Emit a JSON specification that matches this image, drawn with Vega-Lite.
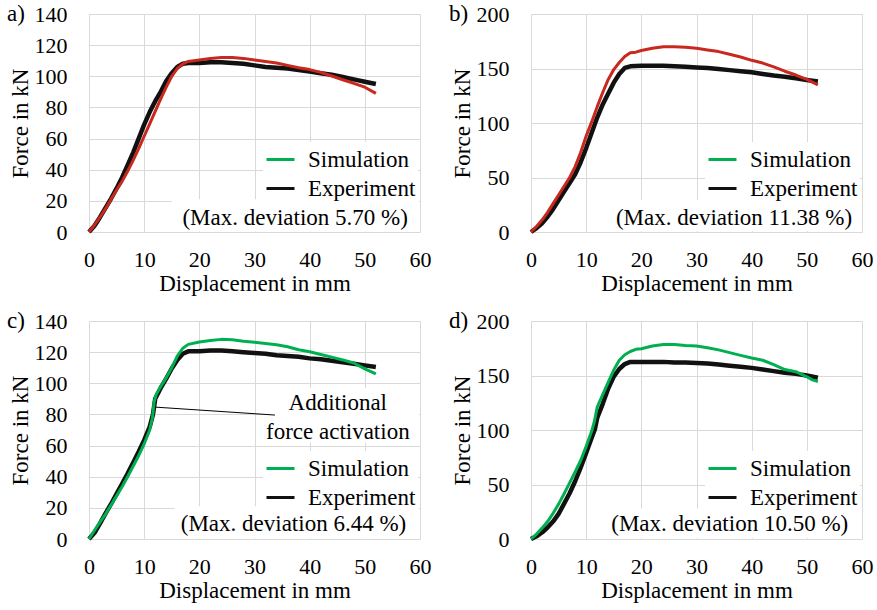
{
  "$schema": "https://vega.github.io/schema/vega-lite/v6.json",
  "background": "white",
  "padding": {"left": 7, "top": 3, "right": 5, "bottom": 2},
  "bounds": "flush",
  "columns": 2,
  "spacing": {"row": 89, "column": 111},
  "resolve": {"scale": {"color": "independent"}, "legend": {"color": "independent"}},
  "config": {
    "view": {"stroke": null},
    "font": "Liberation Serif, Times New Roman, DejaVu Serif, serif",
    "axis": {
      "grid": true, "gridColor": "#d9d9d9", "gridWidth": 1,
      "domain": false, "ticks": false, "tickSize": 0,
      "labelFont": "Liberation Serif, Times New Roman, DejaVu Serif, serif", "labelFontSize": 22, "labelColor": "#000000",
      "titleFont": "Liberation Serif, Times New Roman, DejaVu Serif, serif", "titleFontSize": 23, "titleFontWeight": "normal", "titleColor": "#000000",
      "labelFlush": false, "labelOverlap": false
    },
    "axisX": {"labelPadding": 17.5, "titlePadding": 2},
    "axisY": {"labelPadding": 22, "titleX": -62, "titleBaseline": "alphabetic"},
    "legend": {
      "fillColor": "white", "padding": 2, "symbolType": "stroke", "symbolSize": 784,
      "symbolStrokeWidth": 3, "labelFont": "Liberation Serif, Times New Roman, DejaVu Serif, serif", "labelFontSize": 23,
      "labelColor": "#000000", "labelOffset": 12, "rowPadding": 1
    },
    "title": {
      "font": "Liberation Serif, Times New Roman, DejaVu Serif, serif", "fontSize": 23, "fontWeight": "normal", "color": "#000000",
      "anchor": "start", "frame": "group", "offset": -7, "dx": -82, "dy": 16, "baseline": "alphabetic", "align": "left"
    },
    "text": {"font": "Liberation Serif, Times New Roman, DejaVu Serif, serif", "fontSize": 23, "color": "#000000"}
  },
  "concat": [
    {
      "title": "a)",
      "width": 331, "height": 218,
      "encoding": {
        "x": {"field": "d", "type": "quantitative", "scale": {"domain": [0, 60], "nice": false}, "axis": {"values": [0, 10, 20, 30, 40, 50, 60], "title": "Displacement in mm"}},
        "y": {"field": "f", "type": "quantitative", "scale": {"domain": [0, 140], "nice": false}, "axis": {"values": [0, 20, 40, 60, 80, 100, 120, 140], "title": "Force in kN"}}
      },
      "layer": [
        {
          "data": {"values": [{"d": 15, "d2": 59.8, "f": 0.4, "f2": 21}]},
          "mark": {"type": "rect", "color": "white"},
          "encoding": {"x2": {"field": "d2"}, "y2": {"field": "f2"}}
        },
        {
          "data": {"values": [
            {"series": "Experiment", "d": 0, "f": 0}, {"series": "Experiment", "d": 1, "f": 4}, {"series": "Experiment", "d": 2, "f": 9.5},
            {"series": "Experiment", "d": 3, "f": 15.5}, {"series": "Experiment", "d": 4, "f": 21.5}, {"series": "Experiment", "d": 5, "f": 28},
            {"series": "Experiment", "d": 6, "f": 35}, {"series": "Experiment", "d": 7, "f": 43}, {"series": "Experiment", "d": 8, "f": 51},
            {"series": "Experiment", "d": 9, "f": 60}, {"series": "Experiment", "d": 10, "f": 69}, {"series": "Experiment", "d": 11, "f": 77},
            {"series": "Experiment", "d": 12, "f": 84}, {"series": "Experiment", "d": 13, "f": 90}, {"series": "Experiment", "d": 14, "f": 97},
            {"series": "Experiment", "d": 15, "f": 102}, {"series": "Experiment", "d": 16, "f": 106}, {"series": "Experiment", "d": 17, "f": 108},
            {"series": "Experiment", "d": 18, "f": 108.5}, {"series": "Experiment", "d": 20, "f": 108.5}, {"series": "Experiment", "d": 22, "f": 109},
            {"series": "Experiment", "d": 24, "f": 109}, {"series": "Experiment", "d": 26, "f": 108.5}, {"series": "Experiment", "d": 28, "f": 108},
            {"series": "Experiment", "d": 30, "f": 107}, {"series": "Experiment", "d": 32, "f": 106}, {"series": "Experiment", "d": 34, "f": 105.5},
            {"series": "Experiment", "d": 36, "f": 105}, {"series": "Experiment", "d": 38, "f": 104}, {"series": "Experiment", "d": 40, "f": 103},
            {"series": "Experiment", "d": 42, "f": 102}, {"series": "Experiment", "d": 44, "f": 101}, {"series": "Experiment", "d": 46, "f": 99.5},
            {"series": "Experiment", "d": 48, "f": 98}, {"series": "Experiment", "d": 50, "f": 96.5}, {"series": "Experiment", "d": 52, "f": 95}
          ]},
          "mark": {"type": "line", "strokeWidth": 4.5, "strokeJoin": "round"},
          "encoding": {
            "color": {"field": "series", "type": "nominal", "scale": {"domain": ["Simulation", "Experiment"], "range": ["#00b050", "#111111"]},
              "legend": {"title": null, "orient": "none", "legendX": 174, "legendY": 128}}
          }
        },
        {
          "data": {"values": [
            {"series": "Simulation", "d": 0, "f": 0}, {"series": "Simulation", "d": 1, "f": 4.5}, {"series": "Simulation", "d": 2, "f": 9.5},
            {"series": "Simulation", "d": 3, "f": 15}, {"series": "Simulation", "d": 4, "f": 21}, {"series": "Simulation", "d": 5, "f": 27},
            {"series": "Simulation", "d": 6, "f": 32.5}, {"series": "Simulation", "d": 7, "f": 39}, {"series": "Simulation", "d": 8, "f": 46},
            {"series": "Simulation", "d": 9, "f": 53.5}, {"series": "Simulation", "d": 10, "f": 61.5}, {"series": "Simulation", "d": 11, "f": 69.5},
            {"series": "Simulation", "d": 12, "f": 77.5}, {"series": "Simulation", "d": 13, "f": 85.5}, {"series": "Simulation", "d": 14, "f": 93},
            {"series": "Simulation", "d": 15, "f": 100}, {"series": "Simulation", "d": 16, "f": 105}, {"series": "Simulation", "d": 17, "f": 108},
            {"series": "Simulation", "d": 18, "f": 109.5}, {"series": "Simulation", "d": 20, "f": 110.5}, {"series": "Simulation", "d": 22, "f": 111.5},
            {"series": "Simulation", "d": 24, "f": 112}, {"series": "Simulation", "d": 26, "f": 112}, {"series": "Simulation", "d": 28, "f": 111.5},
            {"series": "Simulation", "d": 30, "f": 110.5}, {"series": "Simulation", "d": 32, "f": 109.5}, {"series": "Simulation", "d": 34, "f": 108.5},
            {"series": "Simulation", "d": 36, "f": 107}, {"series": "Simulation", "d": 38, "f": 105.5}, {"series": "Simulation", "d": 40, "f": 104.3},
            {"series": "Simulation", "d": 42, "f": 102.5}, {"series": "Simulation", "d": 44, "f": 100.2}, {"series": "Simulation", "d": 46, "f": 97.8},
            {"series": "Simulation", "d": 48, "f": 95.5}, {"series": "Simulation", "d": 50, "f": 93}, {"series": "Simulation", "d": 52, "f": 89}
          ]},
          "mark": {"type": "line", "strokeWidth": 3, "color": "#c8281e", "strokeJoin": "round"},
          "encoding": {}
        },
        {
          "data": {"values": [{"d": 57.8, "f": 9, "label": "(Max. deviation 5.70 %)"}]},
          "mark": {"type": "text", "align": "right", "baseline": "middle"},
          "encoding": {"text": {"field": "label", "type": "nominal"}}
        }
      ]
    },
    {
      "title": "b)",
      "width": 331, "height": 218,
      "encoding": {
        "x": {"field": "d", "type": "quantitative", "scale": {"domain": [0, 60], "nice": false}, "axis": {"values": [0, 10, 20, 30, 40, 50, 60], "title": "Displacement in mm"}},
        "y": {"field": "f", "type": "quantitative", "scale": {"domain": [0, 200], "nice": false}, "axis": {"values": [0, 50, 100, 150, 200], "title": "Force in kN"}}
      },
      "layer": [
        {
          "data": {"values": [{"d": 13.3, "d2": 59.8, "f": 0.6, "f2": 29.5}]},
          "mark": {"type": "rect", "color": "white"},
          "encoding": {"x2": {"field": "d2"}, "y2": {"field": "f2"}}
        },
        {
          "data": {"values": [
            {"series": "Experiment", "d": 0, "f": 0}, {"series": "Experiment", "d": 1, "f": 3.5}, {"series": "Experiment", "d": 2, "f": 8},
            {"series": "Experiment", "d": 3, "f": 14}, {"series": "Experiment", "d": 4, "f": 21}, {"series": "Experiment", "d": 5, "f": 29},
            {"series": "Experiment", "d": 6, "f": 37}, {"series": "Experiment", "d": 7, "f": 45}, {"series": "Experiment", "d": 8, "f": 53},
            {"series": "Experiment", "d": 9, "f": 64}, {"series": "Experiment", "d": 10, "f": 77}, {"series": "Experiment", "d": 11, "f": 91},
            {"series": "Experiment", "d": 12, "f": 105}, {"series": "Experiment", "d": 13, "f": 117}, {"series": "Experiment", "d": 14, "f": 127},
            {"series": "Experiment", "d": 15, "f": 137}, {"series": "Experiment", "d": 16, "f": 145}, {"series": "Experiment", "d": 17, "f": 150.5},
            {"series": "Experiment", "d": 18, "f": 152}, {"series": "Experiment", "d": 20, "f": 152.5}, {"series": "Experiment", "d": 22, "f": 152.5},
            {"series": "Experiment", "d": 24, "f": 152.5}, {"series": "Experiment", "d": 26, "f": 152}, {"series": "Experiment", "d": 28, "f": 151.5},
            {"series": "Experiment", "d": 30, "f": 151}, {"series": "Experiment", "d": 32, "f": 150.5}, {"series": "Experiment", "d": 34, "f": 149.5},
            {"series": "Experiment", "d": 36, "f": 148.5}, {"series": "Experiment", "d": 38, "f": 147.5}, {"series": "Experiment", "d": 40, "f": 146.5},
            {"series": "Experiment", "d": 42, "f": 145}, {"series": "Experiment", "d": 44, "f": 143.5}, {"series": "Experiment", "d": 46, "f": 142.5},
            {"series": "Experiment", "d": 48, "f": 141}, {"series": "Experiment", "d": 50, "f": 139.5}, {"series": "Experiment", "d": 52, "f": 138}
          ]},
          "mark": {"type": "line", "strokeWidth": 4.5, "strokeJoin": "round"},
          "encoding": {
            "color": {"field": "series", "type": "nominal", "scale": {"domain": ["Simulation", "Experiment"], "range": ["#00b050", "#111111"]},
              "legend": {"title": null, "orient": "none", "legendX": 174, "legendY": 128}}
          }
        },
        {
          "data": {"values": [
            {"series": "Simulation", "d": 0, "f": 0}, {"series": "Simulation", "d": 1, "f": 5}, {"series": "Simulation", "d": 2, "f": 11},
            {"series": "Simulation", "d": 3, "f": 18}, {"series": "Simulation", "d": 4, "f": 26}, {"series": "Simulation", "d": 5, "f": 34},
            {"series": "Simulation", "d": 6, "f": 42}, {"series": "Simulation", "d": 7, "f": 50}, {"series": "Simulation", "d": 8, "f": 60},
            {"series": "Simulation", "d": 9, "f": 73}, {"series": "Simulation", "d": 10, "f": 88}, {"series": "Simulation", "d": 11, "f": 101},
            {"series": "Simulation", "d": 12, "f": 115}, {"series": "Simulation", "d": 13, "f": 128}, {"series": "Simulation", "d": 14, "f": 140},
            {"series": "Simulation", "d": 15, "f": 149}, {"series": "Simulation", "d": 16, "f": 155.5}, {"series": "Simulation", "d": 17, "f": 161},
            {"series": "Simulation", "d": 18, "f": 164.5}, {"series": "Simulation", "d": 19, "f": 165}, {"series": "Simulation", "d": 20, "f": 166.5},
            {"series": "Simulation", "d": 22, "f": 168.5}, {"series": "Simulation", "d": 24, "f": 170}, {"series": "Simulation", "d": 26, "f": 170},
            {"series": "Simulation", "d": 28, "f": 169.5}, {"series": "Simulation", "d": 30, "f": 168.5}, {"series": "Simulation", "d": 32, "f": 167},
            {"series": "Simulation", "d": 34, "f": 165.5}, {"series": "Simulation", "d": 36, "f": 163}, {"series": "Simulation", "d": 38, "f": 160.5},
            {"series": "Simulation", "d": 40, "f": 157.5}, {"series": "Simulation", "d": 42, "f": 155}, {"series": "Simulation", "d": 44, "f": 151.5},
            {"series": "Simulation", "d": 46, "f": 147.5}, {"series": "Simulation", "d": 48, "f": 144}, {"series": "Simulation", "d": 50, "f": 140},
            {"series": "Simulation", "d": 52, "f": 135}
          ]},
          "mark": {"type": "line", "strokeWidth": 3, "color": "#c8281e", "strokeJoin": "round"},
          "encoding": {}
        },
        {
          "data": {"values": [{"d": 58.2, "f": 12.8, "label": "(Max. deviation 11.38 %)"}]},
          "mark": {"type": "text", "align": "right", "baseline": "middle"},
          "encoding": {"text": {"field": "label", "type": "nominal"}}
        }
      ]
    },
    {
      "title": "c)",
      "width": 331, "height": 218,
      "encoding": {
        "x": {"field": "d", "type": "quantitative", "scale": {"domain": [0, 60], "nice": false}, "axis": {"values": [0, 10, 20, 30, 40, 50, 60], "title": "Displacement in mm"}},
        "y": {"field": "f", "type": "quantitative", "scale": {"domain": [0, 140], "nice": false}, "axis": {"values": [0, 20, 40, 60, 80, 100, 120, 140], "title": "Force in kN"}}
      },
      "layer": [
        {
          "data": {"values": [{"d": 15.5, "d2": 59.8, "f": 0.4, "f2": 21}, {"d": 31.5, "d2": 59.8, "f": 62, "f2": 97}]},
          "mark": {"type": "rect", "color": "white"},
          "encoding": {"x2": {"field": "d2"}, "y2": {"field": "f2"}}
        },
        {
          "data": {"values": [
            {"series": "Experiment", "d": 0, "f": 0}, {"series": "Experiment", "d": 1, "f": 4}, {"series": "Experiment", "d": 2, "f": 10},
            {"series": "Experiment", "d": 3, "f": 16.5}, {"series": "Experiment", "d": 4, "f": 22.5}, {"series": "Experiment", "d": 5, "f": 29},
            {"series": "Experiment", "d": 6, "f": 35.5}, {"series": "Experiment", "d": 7, "f": 42}, {"series": "Experiment", "d": 8, "f": 49},
            {"series": "Experiment", "d": 9, "f": 56}, {"series": "Experiment", "d": 10, "f": 63.5}, {"series": "Experiment", "d": 11, "f": 72},
            {"series": "Experiment", "d": 11.6, "f": 80}, {"series": "Experiment", "d": 12, "f": 90}, {"series": "Experiment", "d": 13, "f": 97},
            {"series": "Experiment", "d": 14, "f": 103}, {"series": "Experiment", "d": 15, "f": 109.5}, {"series": "Experiment", "d": 16, "f": 115},
            {"series": "Experiment", "d": 17, "f": 119}, {"series": "Experiment", "d": 18, "f": 120.5}, {"series": "Experiment", "d": 20, "f": 120.5},
            {"series": "Experiment", "d": 22, "f": 121}, {"series": "Experiment", "d": 24, "f": 121}, {"series": "Experiment", "d": 26, "f": 120.5},
            {"series": "Experiment", "d": 28, "f": 120}, {"series": "Experiment", "d": 30, "f": 119.5}, {"series": "Experiment", "d": 32, "f": 119},
            {"series": "Experiment", "d": 34, "f": 118}, {"series": "Experiment", "d": 36, "f": 117.5}, {"series": "Experiment", "d": 38, "f": 117},
            {"series": "Experiment", "d": 40, "f": 116}, {"series": "Experiment", "d": 42, "f": 115.5}, {"series": "Experiment", "d": 44, "f": 114.5},
            {"series": "Experiment", "d": 46, "f": 113.5}, {"series": "Experiment", "d": 48, "f": 112.5}, {"series": "Experiment", "d": 50, "f": 111.5},
            {"series": "Experiment", "d": 52, "f": 110.5},
            {"series": "Simulation", "d": 0, "f": 0}, {"series": "Simulation", "d": 1, "f": 5.5}, {"series": "Simulation", "d": 2, "f": 10.8},
            {"series": "Simulation", "d": 3, "f": 16}, {"series": "Simulation", "d": 4, "f": 21.8}, {"series": "Simulation", "d": 5, "f": 27.7},
            {"series": "Simulation", "d": 6, "f": 33.6}, {"series": "Simulation", "d": 7, "f": 40}, {"series": "Simulation", "d": 8, "f": 46.7},
            {"series": "Simulation", "d": 9, "f": 53.5}, {"series": "Simulation", "d": 10, "f": 61}, {"series": "Simulation", "d": 11, "f": 70},
            {"series": "Simulation", "d": 11.5, "f": 78}, {"series": "Simulation", "d": 11.8, "f": 88}, {"series": "Simulation", "d": 12.2, "f": 93},
            {"series": "Simulation", "d": 13, "f": 98}, {"series": "Simulation", "d": 14, "f": 103.5}, {"series": "Simulation", "d": 15, "f": 110},
            {"series": "Simulation", "d": 16, "f": 117.5}, {"series": "Simulation", "d": 17, "f": 122.5}, {"series": "Simulation", "d": 18, "f": 125},
            {"series": "Simulation", "d": 20, "f": 126.5}, {"series": "Simulation", "d": 22, "f": 127.5}, {"series": "Simulation", "d": 24, "f": 128.2},
            {"series": "Simulation", "d": 26, "f": 128}, {"series": "Simulation", "d": 28, "f": 127}, {"series": "Simulation", "d": 30, "f": 126.3},
            {"series": "Simulation", "d": 32, "f": 125.5}, {"series": "Simulation", "d": 34, "f": 124.8}, {"series": "Simulation", "d": 36, "f": 123.5},
            {"series": "Simulation", "d": 38, "f": 121.5}, {"series": "Simulation", "d": 40, "f": 120.3}, {"series": "Simulation", "d": 42, "f": 118.5},
            {"series": "Simulation", "d": 44, "f": 116.8}, {"series": "Simulation", "d": 46, "f": 115}, {"series": "Simulation", "d": 48, "f": 113},
            {"series": "Simulation", "d": 50, "f": 109.3}, {"series": "Simulation", "d": 52, "f": 106}
          ]},
          "layer": [
            {
              "transform": [{"filter": "datum.series === 'Experiment'"}],
              "mark": {"type": "line", "strokeWidth": 4.5, "strokeJoin": "round"},
              "encoding": {
                "color": {"field": "series", "type": "nominal", "scale": {"domain": ["Simulation", "Experiment"], "range": ["#00b050", "#111111"]},
                  "legend": {"title": null, "orient": "none", "legendX": 174, "legendY": 130}}
              }
            },
            {
              "transform": [{"filter": "datum.series === 'Simulation'"}],
              "mark": {"type": "line", "strokeWidth": 3, "strokeJoin": "round"},
              "encoding": {
                "color": {"field": "series", "type": "nominal", "scale": {"domain": ["Simulation", "Experiment"], "range": ["#00b050", "#111111"]},
                  "legend": {"title": null, "orient": "none", "legendX": 174, "legendY": 130}}
              }
            }
          ]
        },
        {
          "data": {"values": [{"d": 12, "f": 84.7, "d2": 33.7, "f2": 79.6}]},
          "mark": {"type": "rule", "color": "#000000", "strokeWidth": 1},
          "encoding": {"x2": {"field": "d2"}, "y2": {"field": "f2"}}
        },
        {
          "data": {"values": [{"d": 45.1, "f": 87.3, "label": "Additional"}, {"d": 45.1, "f": 68.7, "label": "force activation"}]},
          "mark": {"type": "text", "align": "center", "baseline": "middle"},
          "encoding": {"text": {"field": "label", "type": "nominal"}}
        },
        {
          "data": {"values": [{"d": 57.5, "f": 9.6, "label": "(Max. deviation 6.44 %)"}]},
          "mark": {"type": "text", "align": "right", "baseline": "middle"},
          "encoding": {"text": {"field": "label", "type": "nominal"}}
        }
      ]
    },
    {
      "title": "d)",
      "width": 331, "height": 218,
      "encoding": {
        "x": {"field": "d", "type": "quantitative", "scale": {"domain": [0, 60], "nice": false}, "axis": {"values": [0, 10, 20, 30, 40, 50, 60], "title": "Displacement in mm"}},
        "y": {"field": "f", "type": "quantitative", "scale": {"domain": [0, 200], "nice": false}, "axis": {"values": [0, 50, 100, 150, 200], "title": "Force in kN"}}
      },
      "layer": [
        {
          "data": {"values": [{"d": 13.4, "d2": 59.8, "f": 0.6, "f2": 28}]},
          "mark": {"type": "rect", "color": "white"},
          "encoding": {"x2": {"field": "d2"}, "y2": {"field": "f2"}}
        },
        {
          "data": {"values": [
            {"series": "Experiment", "d": 0, "f": 0}, {"series": "Experiment", "d": 1, "f": 2.5}, {"series": "Experiment", "d": 2, "f": 6},
            {"series": "Experiment", "d": 3, "f": 10.5}, {"series": "Experiment", "d": 4, "f": 16}, {"series": "Experiment", "d": 5, "f": 23},
            {"series": "Experiment", "d": 6, "f": 32.5}, {"series": "Experiment", "d": 7, "f": 42}, {"series": "Experiment", "d": 8, "f": 53},
            {"series": "Experiment", "d": 9, "f": 65.5}, {"series": "Experiment", "d": 10, "f": 79}, {"series": "Experiment", "d": 11, "f": 93},
            {"series": "Experiment", "d": 11.6, "f": 101}, {"series": "Experiment", "d": 12, "f": 111}, {"series": "Experiment", "d": 13, "f": 124},
            {"series": "Experiment", "d": 14, "f": 138}, {"series": "Experiment", "d": 15, "f": 149}, {"series": "Experiment", "d": 16, "f": 156},
            {"series": "Experiment", "d": 17, "f": 160.5}, {"series": "Experiment", "d": 18, "f": 162.5}, {"series": "Experiment", "d": 20, "f": 162.5},
            {"series": "Experiment", "d": 22, "f": 162.5}, {"series": "Experiment", "d": 24, "f": 162.5}, {"series": "Experiment", "d": 26, "f": 162},
            {"series": "Experiment", "d": 28, "f": 162}, {"series": "Experiment", "d": 30, "f": 161.5}, {"series": "Experiment", "d": 32, "f": 161},
            {"series": "Experiment", "d": 34, "f": 160}, {"series": "Experiment", "d": 36, "f": 159}, {"series": "Experiment", "d": 38, "f": 158},
            {"series": "Experiment", "d": 40, "f": 157}, {"series": "Experiment", "d": 42, "f": 155.5}, {"series": "Experiment", "d": 44, "f": 154},
            {"series": "Experiment", "d": 46, "f": 152.5}, {"series": "Experiment", "d": 48, "f": 151.5}, {"series": "Experiment", "d": 50, "f": 150},
            {"series": "Experiment", "d": 52, "f": 148},
            {"series": "Simulation", "d": 0, "f": 0}, {"series": "Simulation", "d": 1, "f": 4.5}, {"series": "Simulation", "d": 2, "f": 10},
            {"series": "Simulation", "d": 3, "f": 16}, {"series": "Simulation", "d": 4, "f": 23.5}, {"series": "Simulation", "d": 5, "f": 32},
            {"series": "Simulation", "d": 6, "f": 41.5}, {"series": "Simulation", "d": 7, "f": 51.5}, {"series": "Simulation", "d": 8, "f": 61.5},
            {"series": "Simulation", "d": 9, "f": 72}, {"series": "Simulation", "d": 10, "f": 85}, {"series": "Simulation", "d": 11, "f": 99},
            {"series": "Simulation", "d": 11.5, "f": 108}, {"series": "Simulation", "d": 12, "f": 121}, {"series": "Simulation", "d": 13, "f": 132.5},
            {"series": "Simulation", "d": 14, "f": 144}, {"series": "Simulation", "d": 15, "f": 155}, {"series": "Simulation", "d": 16, "f": 164},
            {"series": "Simulation", "d": 17, "f": 169}, {"series": "Simulation", "d": 18, "f": 172}, {"series": "Simulation", "d": 19, "f": 174},
            {"series": "Simulation", "d": 20, "f": 174.5}, {"series": "Simulation", "d": 22, "f": 177}, {"series": "Simulation", "d": 24, "f": 178.5},
            {"series": "Simulation", "d": 26, "f": 178.5}, {"series": "Simulation", "d": 28, "f": 177.5}, {"series": "Simulation", "d": 30, "f": 177},
            {"series": "Simulation", "d": 32, "f": 175.5}, {"series": "Simulation", "d": 34, "f": 173.5}, {"series": "Simulation", "d": 36, "f": 171},
            {"series": "Simulation", "d": 38, "f": 168.5}, {"series": "Simulation", "d": 40, "f": 166}, {"series": "Simulation", "d": 42, "f": 164},
            {"series": "Simulation", "d": 44, "f": 160}, {"series": "Simulation", "d": 46, "f": 155.5}, {"series": "Simulation", "d": 48, "f": 153.5},
            {"series": "Simulation", "d": 50, "f": 148.8}, {"series": "Simulation", "d": 51, "f": 146}, {"series": "Simulation", "d": 52, "f": 144.5}
          ]},
          "layer": [
            {
              "transform": [{"filter": "datum.series === 'Experiment'"}],
              "mark": {"type": "line", "strokeWidth": 4.5, "strokeJoin": "round"},
              "encoding": {
                "color": {"field": "series", "type": "nominal", "scale": {"domain": ["Simulation", "Experiment"], "range": ["#00b050", "#111111"]},
                  "legend": {"title": null, "orient": "none", "legendX": 174, "legendY": 130}}
              }
            },
            {
              "transform": [{"filter": "datum.series === 'Simulation'"}],
              "mark": {"type": "line", "strokeWidth": 3, "strokeJoin": "round"},
              "encoding": {
                "color": {"field": "series", "type": "nominal", "scale": {"domain": ["Simulation", "Experiment"], "range": ["#00b050", "#111111"]},
                  "legend": {"title": null, "orient": "none", "legendX": 174, "legendY": 130}}
              }
            }
          ]
        },
        {
          "data": {"values": [{"d": 57.5, "f": 13.7, "label": "(Max. deviation 10.50 %)"}]},
          "mark": {"type": "text", "align": "right", "baseline": "middle"},
          "encoding": {"text": {"field": "label", "type": "nominal"}}
        }
      ]
    }
  ]
}
